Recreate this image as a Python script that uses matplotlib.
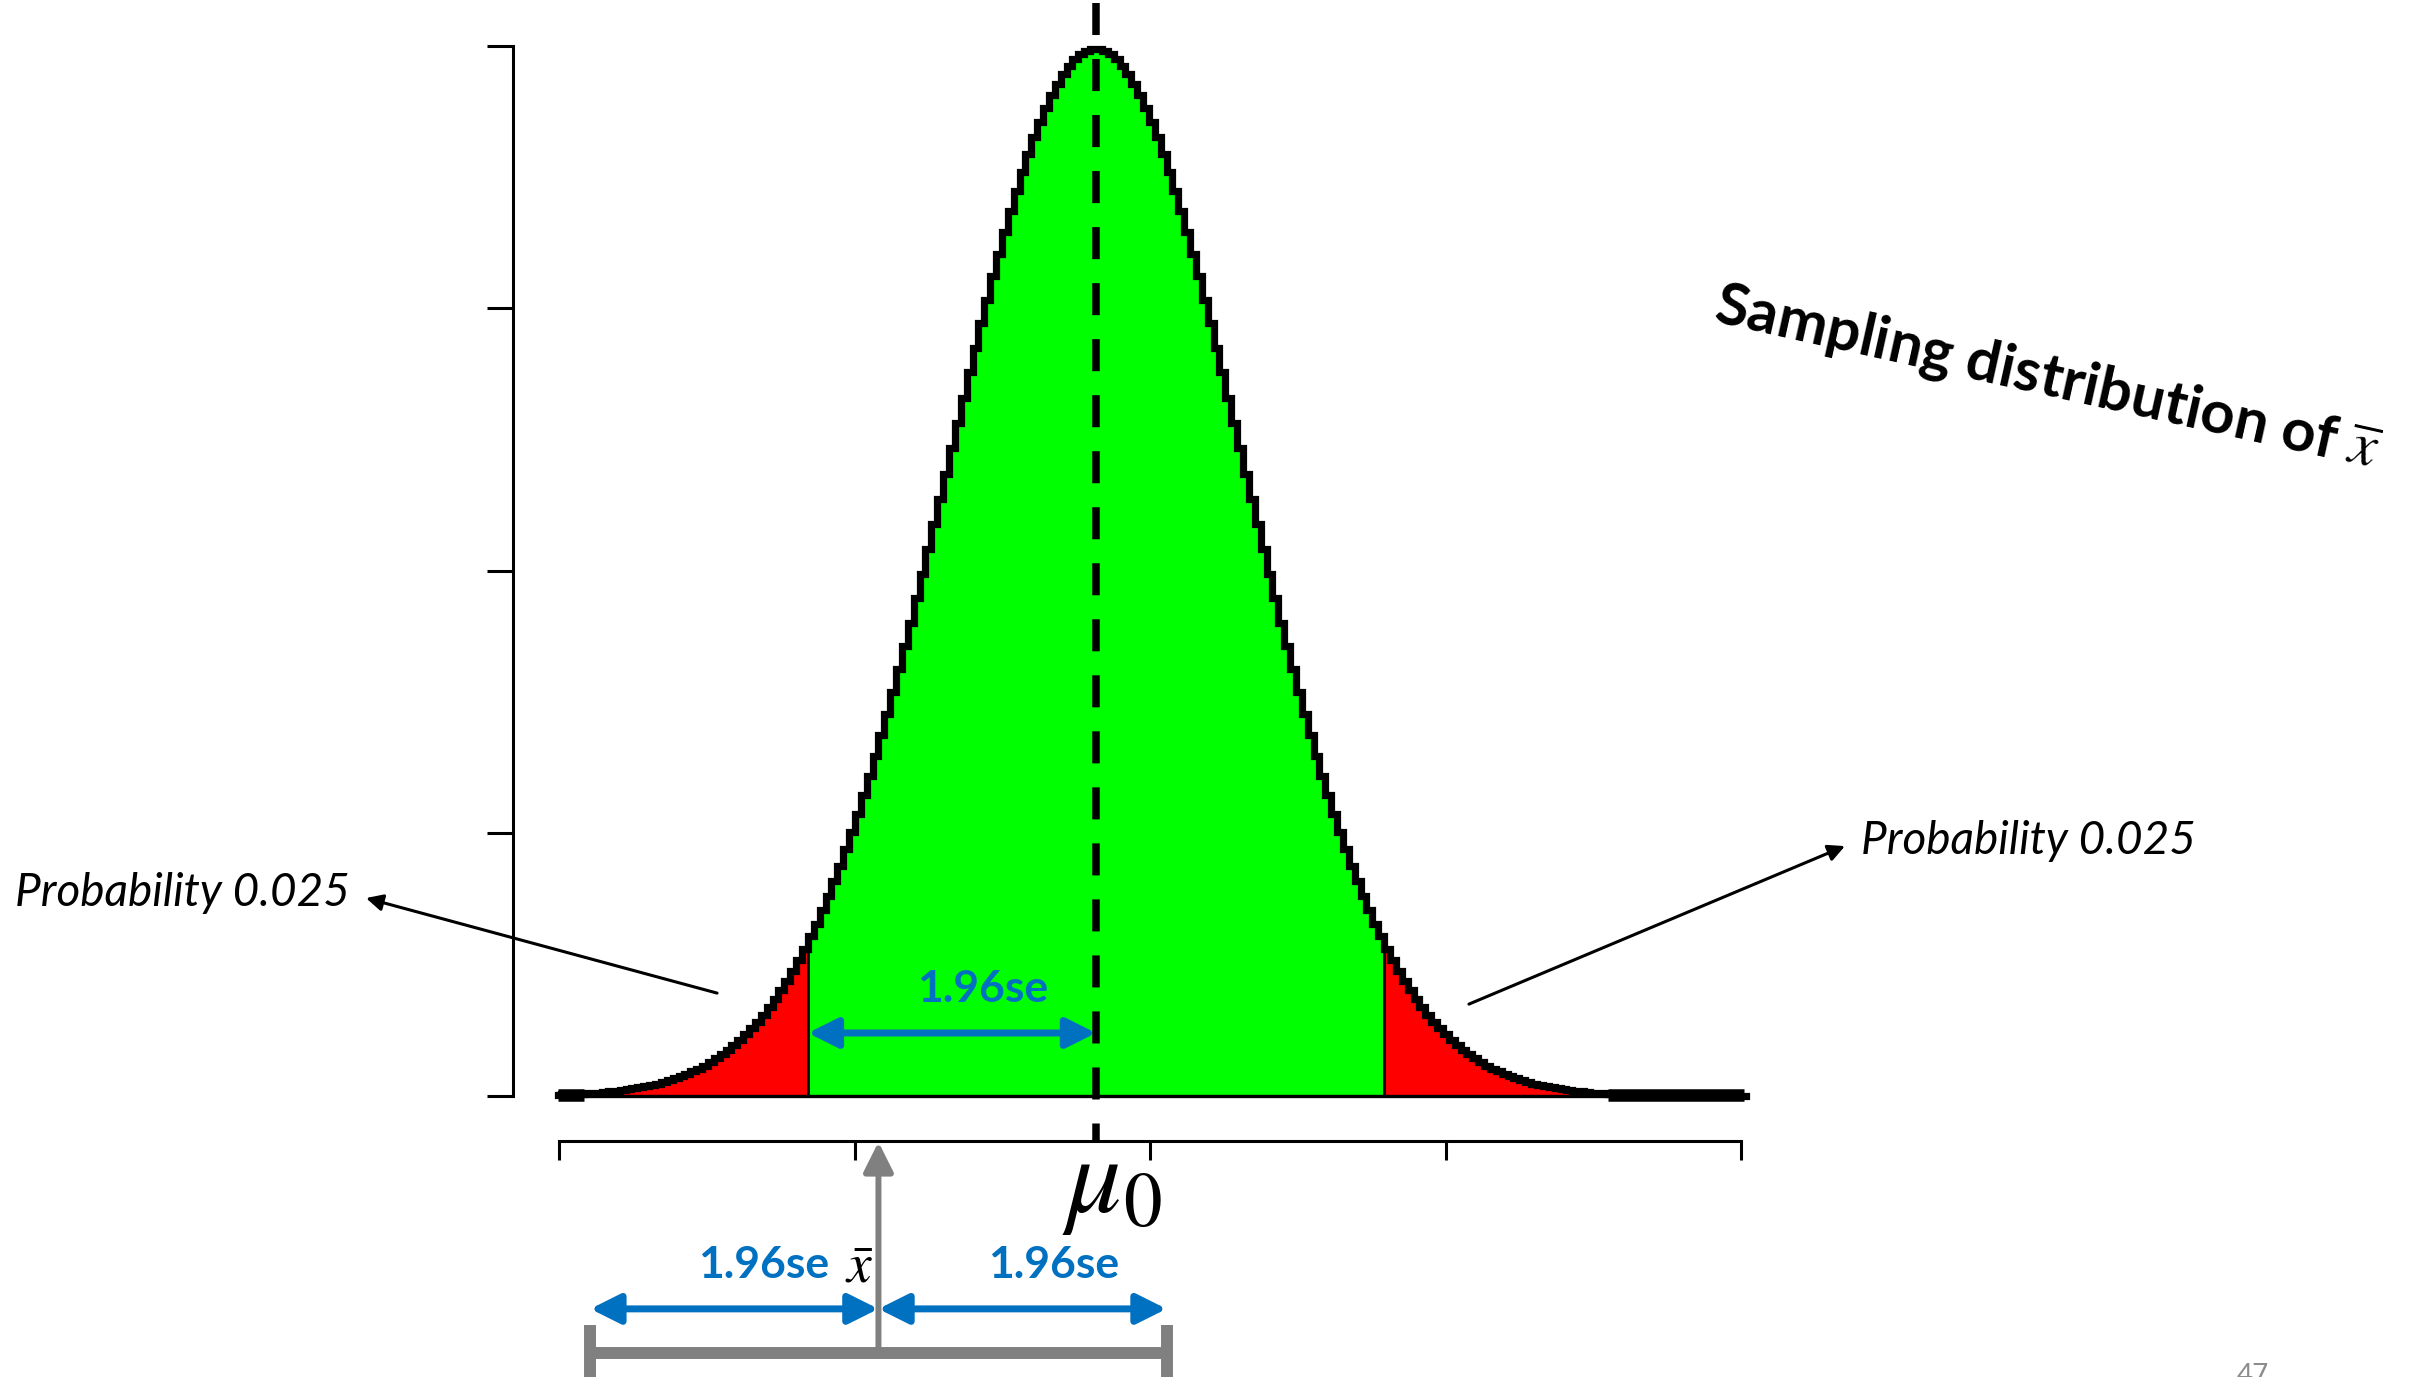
import numpy as np
import matplotlib
matplotlib.use("Agg")
import matplotlib.pyplot as plt
from matplotlib.patches import FancyArrowPatch

plt.rcParams["mathtext.fontset"] = "stix"

# Sampling distribution of the mean, in standard-error units
mu0 = 0.0
se = 1.0
z_crit = 1.96
tail_prob = 0.025
x_bar = -1.48
curve_range = (-3.66, 4.41)
grid_step = 0.04

y_ticks = [0.0, 0.1, 0.2, 0.3, 0.4]
lower_ticks = [-3.65, -1.64, 0.37, 2.38, 4.39]

title_text = r"Sampling distribution of $\overline{x}$"
prob_label = f"Probability {tail_prob}"
half_width_label = f"{z_crit}se"
mean_label = r"$\mu_0$"
xbar_label = r"$\bar{x}$"
page_label = "47"

GREEN = "#00FF00"
RED = "#FF0000"
BLUE = "#0070C0"
GREY = "#808080"
SANS = "Lato"


def density(x):
    return np.exp(-0.5 * ((x - mu0) / se) ** 2) / (se * np.sqrt(2 * np.pi))


fig = plt.figure(figsize=(24.3, 13.77), dpi=100)
ax = fig.add_axes([0, 0, 1, 1])
ax.set_xlim(-7.456, 9.075)
ax.set_ylim(-0.10705, 0.41752)
ax.patch.set_visible(False)

lo, hi = curve_range
crit_lo, crit_hi = mu0 - z_crit * se, mu0 + z_crit * se

# shaded regions: central 95% and the two tails
for a, b, c in [(lo, crit_lo, RED), (crit_lo, crit_hi, GREEN), (crit_hi, hi, RED)]:
    xs = np.linspace(a, b, 600)
    ax.fill_between(xs, 0, density(xs), color=c, lw=0, zorder=1)

ax.vlines([crit_lo, crit_hi], 0, density(np.array([crit_lo, crit_hi])),
          color="black", lw=2.0, zorder=2)
ax.hlines(0, lo, hi, color="black", lw=2.4, zorder=2)

# stepped outline of the density
xg = np.arange(lo, hi + grid_step / 2, grid_step)
ax.plot(xg, density(xg), drawstyle="steps-mid", color="black", lw=5.2,
        solid_joinstyle="miter", zorder=3)
# the flat far tails are drawn heavier
ax.hlines([0.0005, 0.0005], [lo, 3.48], [-3.48, hi], color="black", lw=9, zorder=3)

# dashed line at the hypothesised mean
ax.plot([mu0, mu0], [0.4164, -0.0179], color="black", lw=5.4,
        dashes=(4.27, 3.2), zorder=4)

# left (density) axis
ax.spines[["top", "right", "bottom"]].set_visible(False)
ax.spines["left"].set_position(("data", -3.966))
ax.spines["left"].set_bounds(y_ticks[0], y_ticks[-1])
ax.spines["left"].set_linewidth(2.2)
ax.set_yticks(y_ticks)
ax.set_xticks([])
ax.tick_params(axis="y", direction="out", length=19, width=2.2, labelleft=False)

# lower value axis
ax2 = fig.add_axes([0, (1377 - 1141) / 1377, 1, 0.05])
ax2.set_xlim(ax.get_xlim())
ax2.patch.set_visible(False)
ax2.spines[["top", "right", "left"]].set_visible(False)
ax2.spines["bottom"].set_bounds(lower_ticks[0], lower_ticks[-1])
ax2.spines["bottom"].set_linewidth(2.2)
ax2.set_xticks(lower_ticks)
ax2.set_yticks([])
ax2.tick_params(axis="x", direction="out", length=14, width=2.2, labelbottom=False)

# blue half-width arrows
def double_arrow(x0, x1, y):
    ax.add_patch(FancyArrowPatch((x0, y), (x1, y), arrowstyle="<|-|>",
                                 mutation_scale=45, lw=5, color=BLUE,
                                 shrinkA=0, shrinkB=0, zorder=5))

label_kw = dict(color=BLUE, fontsize=32, fontweight="bold", family=SANS,
                ha="center", va="baseline")

double_arrow(crit_lo, mu0, 0.024)
ax.text((crit_lo + mu0) / 2 + 0.21, 0.0358, half_width_label, **label_kw)

# confidence interval around the observed mean
ci_y = -0.0979
ax.hlines(ci_y, x_bar - z_crit * se, x_bar + z_crit * se, color=GREY, lw=8.6)
ax.vlines([x_bar - z_crit * se, x_bar + z_crit * se], -0.12, -0.0872,
          color=GREY, lw=8.6)
ax.add_patch(FancyArrowPatch((x_bar, ci_y), (x_bar, -0.0175), arrowstyle="-|>",
                             mutation_scale=45, lw=4.3, color=GREY,
                             shrinkA=0, shrinkB=0, zorder=4))
double_arrow(x_bar - z_crit * se, x_bar, -0.0811)
double_arrow(x_bar, x_bar + z_crit * se, -0.0811)
for cx in [x_bar - z_crit * se / 2 + 0.2, x_bar + z_crit * se / 2 + 0.21]:
    ax.text(cx, -0.0693, half_width_label, **label_kw)
ax.text(x_bar - 0.13, -0.0709, xbar_label, fontsize=40, ha="center", va="baseline")

ax.text(-0.23, -0.0442, mean_label, fontsize=79, ha="left", va="baseline")

# tail probability call-outs
arrow_kw = dict(arrowstyle="-|>", mutation_scale=25, lw=2.2, color="black",
                shrinkA=0, shrinkB=0)
ax.annotate("", xy=(-4.966, 0.0754), xytext=(-2.578, 0.0392), arrowprops=arrow_kw)
ax.annotate("", xy=(5.095, 0.0952), xytext=(2.537, 0.0350), arrowprops=arrow_kw)
ax.text(-7.354, 0.0724, prob_label, fontsize=33, style="italic", family=SANS,
        ha="left", va="baseline")
ax.text(5.204, 0.0922, prob_label, fontsize=33, style="italic", family=SANS,
        ha="left", va="baseline")

ax.text(4.19, 0.2952, title_text, fontsize=43, fontweight="bold", family=SANS,
        rotation=-12.5, rotation_mode="anchor", ha="left", va="baseline")

ax.text(7.76, -0.1017, page_label, fontsize=20, color="#8c8c8c", family=SANS,
        ha="left", va="top")

fig.savefig("out.png", dpi=100)
